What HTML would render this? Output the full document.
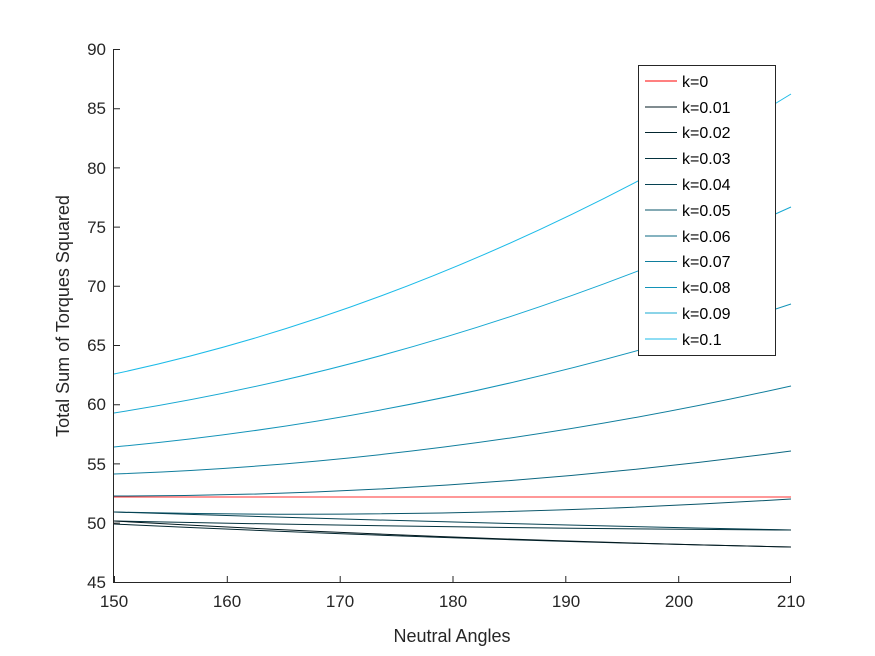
<!DOCTYPE html>
<html><head><style>body{margin:0;background:#fff}svg{display:block;font-family:"Liberation Sans",sans-serif}</style></head><body>
<svg width="875" height="656" viewBox="0 0 875 656">
<rect width="875" height="656" fill="#fff"/>
<g fill="none" stroke-width="1">
<path d="M114,374 Q452,302 791,94" stroke="#1cbbe8"/>
<path d="M114,413 Q452,360 791,207" stroke="#17a8d2"/>
<path d="M114,447 Q452,416 791,304" stroke="#1393b8"/>
<path d="M114,474 Q452,462 791,386" stroke="#0f7d9c"/>
<path d="M114,496 Q452,496 791,451" stroke="#0b6781"/>
<path d="M114,497 L791,497" stroke="#ff3030"/>
<path d="M114,512 Q452,520 791,499" stroke="#085468"/>
<path d="M114,512 Q452,523 791,530" stroke="#064252"/>
<path d="M114,521 Q452,528 791,530" stroke="#04333f"/>
<path d="M114,524 Q452,540 791,547" stroke="#03262f"/>
<path d="M114,521 Q452,540 791,547" stroke="#021a20"/>
</g>
<g stroke="#262626" stroke-width="1" fill="none">
<path d="M113.5,49 V582.5 H791"/>
</g>
<g stroke="#262626">
<path d="M114,49.5h6M114,108.7h6M114,167.9h6M114,227.1h6M114,286.3h6M114,345.5h6M114,404.7h6M114,463.9h6M114,523.1h6"/>
<path d="M114.5,582v-6M227.3,582v-6M340.2,582v-6M453,582v-6M565.8,582v-6M678.7,582v-6M790.5,582v-6"/>
</g>
<g fill="#262626" font-size="17" text-anchor="end">
<text x="106" y="55">90</text><text x="106" y="114">85</text><text x="106" y="174">80</text><text x="106" y="233">75</text><text x="106" y="292">70</text><text x="106" y="351">65</text><text x="106" y="410">60</text><text x="106" y="470">55</text><text x="106" y="529">50</text><text x="106" y="588">45</text>
</g>
<g fill="#262626" font-size="17" text-anchor="middle">
<text x="114" y="607">150</text><text x="227" y="607">160</text><text x="340" y="607">170</text><text x="453" y="607">180</text><text x="566" y="607">190</text><text x="679" y="607">200</text><text x="791" y="607">210</text>
<text x="452" y="642" font-size="18">Neutral Angles</text>
<text transform="translate(69,316) rotate(-90)" font-size="18">Total Sum of Torques Squared</text>
</g>
<rect x="638.5" y="65.5" width="137" height="290" fill="#fff" stroke="#262626"/>
<g stroke-width="1">
<path d="M645,81h32" stroke="#ff0000"/>
<path d="M645,107h32" stroke="#021a20"/>
<path d="M645,132.5h32" stroke="#03262f"/>
<path d="M645,158.5h32" stroke="#04333f"/>
<path d="M645,184.5h32" stroke="#064252"/>
<path d="M645,210h32" stroke="#085468"/>
<path d="M645,236h32" stroke="#0b6781"/>
<path d="M645,261.5h32" stroke="#0f7d9c"/>
<path d="M645,287.5h32" stroke="#1393b8"/>
<path d="M645,313h32" stroke="#17a8d2"/>
<path d="M645,339h32" stroke="#1cbbe8"/>
</g>
<g fill="#000" font-size="16">
<text x="682" y="87">k=0</text><text x="682" y="113">k=0.01</text><text x="682" y="138">k=0.02</text><text x="682" y="164">k=0.03</text><text x="682" y="190">k=0.04</text><text x="682" y="216">k=0.05</text><text x="682" y="242">k=0.06</text><text x="682" y="267">k=0.07</text><text x="682" y="293">k=0.08</text><text x="682" y="319">k=0.09</text><text x="682" y="345">k=0.1</text>
</g>
</svg>
</body></html>
